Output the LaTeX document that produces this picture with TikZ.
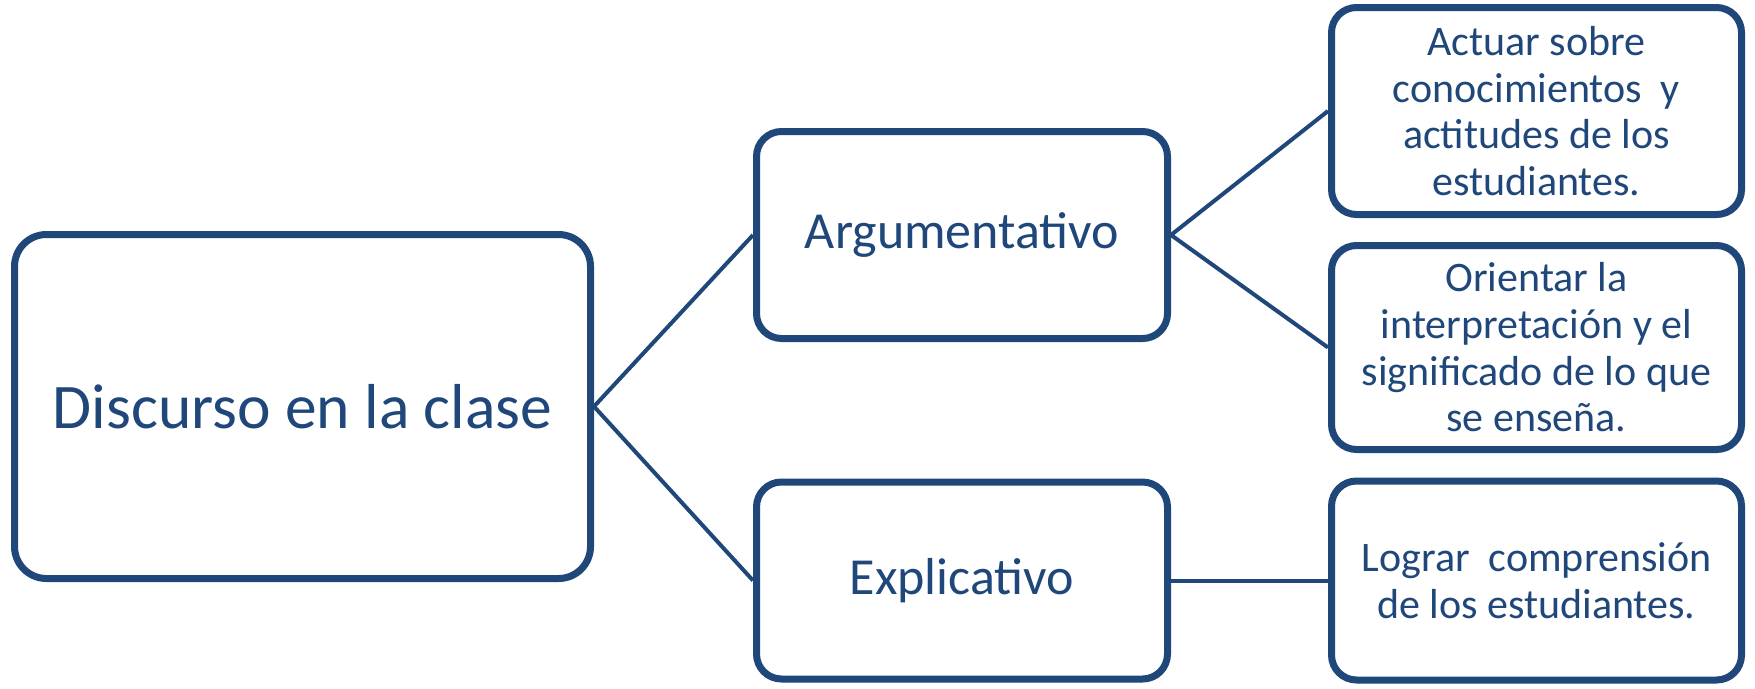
\documentclass[tikz,border=0pt]{standalone}
\usepackage{fontspec}
\setmainfont{Carlito}
\usetikzlibrary{shadows}
\definecolor{navy}{HTML}{1F477A}
\tikzset{
  box/.style={draw=navy, line width=7pt, fill=white, rounded corners=25pt,
    text=navy, align=center, inner sep=0pt,
    drop shadow={shadow xshift=2pt, shadow yshift=-3pt, opacity=0.25, fill=black}},
  big/.style={font=\fontsize{63.5}{70}\selectfont},
  mid/.style={font=\fontsize{52}{58}\selectfont},
  small/.style={font=\fontsize{42}{46.7}\selectfont},
  link/.style={draw=navy, line width=4pt}
}
\begin{document}
\begin{tikzpicture}[x=1pt,y=-1pt]
\useasboundingbox (0,0) rectangle (1755,688);
\node[box, big, rounded corners=32pt, minimum width=576pt, minimum height=344pt] (A) at (302.5,406.5) {Discurso en la clase};
\node[box, mid, minimum width=411pt, minimum height=207pt] (B) at (962,235) {Argumentativo};
\node[box, mid, minimum width=411pt, minimum height=197pt] (C) at (962,580.5) {Explicativo};
\node[box, small, minimum width=410pt, minimum height=207pt] (D1) at (1536.5,111) {Actuar sobre\\conocimientos~ y\\actitudes de los\\estudiantes.};
\node[box, small, minimum width=410pt, minimum height=204pt] (D2) at (1536.5,347.5) {Orientar la\\interpretación y el\\significado de lo que\\se enseña.};
\node[box, small, minimum width=410pt, minimum height=199pt] (D3) at (1536.5,580.5) {Lograr~ comprensión\\de los estudiantes.};
\draw[link] (A.east) -- (B.west);
\draw[link] (A.east) -- (C.west);
\draw[link] (B.east) -- (D1.west);
\draw[link] (B.east) -- (D2.west);
\draw[link] (C.east) -- (D3.west);
\end{tikzpicture}
\end{document}
